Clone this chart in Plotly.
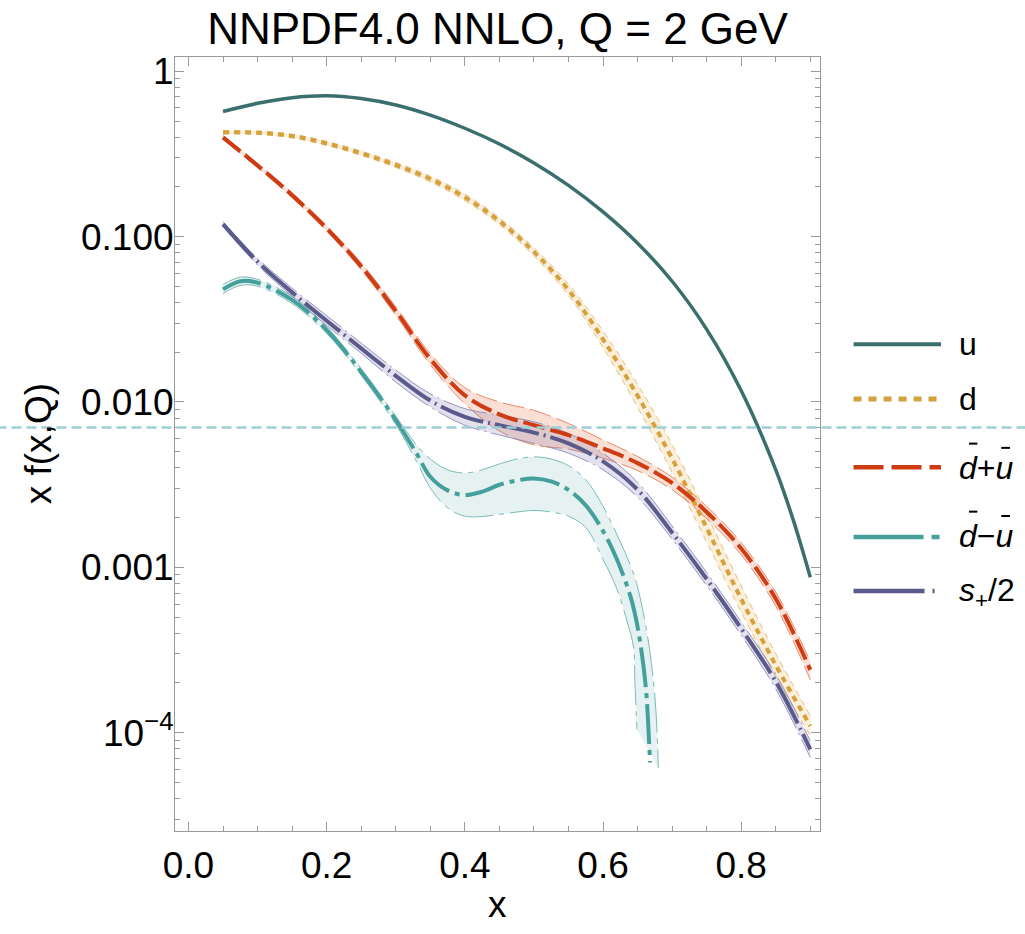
import plotly.graph_objects as go

# ---------------- data ----------------
x_grid = [0.05, 0.1, 0.15, 0.2, 0.25, 0.3, 0.35, 0.4, 0.45, 0.5, 0.55, 0.6,
          0.65, 0.7, 0.75, 0.8, 0.85, 0.9]

u_x = [0.05, 0.1, 0.15, 0.2, 0.25, 0.3, 0.35, 0.4, 0.45, 0.5, 0.55, 0.6,
       0.65, 0.7, 0.75, 0.8, 0.85, 0.875, 0.9]
u_mid = [0.571, 0.640, 0.692, 0.711, 0.684, 0.625, 0.543, 0.452, 0.363, 0.279,
         0.204, 0.141, 0.0912, 0.0537, 0.0275, 0.0117, 0.00389, 0.00195, 0.000871]

d_mid = [0.427, 0.425, 0.406, 0.366, 0.319, 0.271, 0.223, 0.173, 0.124, 0.0809,
         0.0476, 0.0239, 0.0109, 0.00455, 0.00173, 0.000643, 0.000256, 0.000110]
d_hi = [0.437, 0.435, 0.416, 0.377, 0.329, 0.281, 0.232, 0.181, 0.130, 0.0857,
        0.0516, 0.0268, 0.0128, 0.00553, 0.00210, 0.000773, 0.000301, 0.000127]
d_lo = [0.417, 0.415, 0.395, 0.356, 0.310, 0.262, 0.214, 0.165, 0.118, 0.0764,
        0.0440, 0.0213, 0.00929, 0.00374, 0.00142, 0.000535, 0.000218, 0.0000962]

dpu_mid = [0.398, 0.269, 0.178, 0.1122, 0.0661, 0.0355, 0.0182, 0.01096, 0.00841,
           0.00724, 0.00631, 0.00525, 0.00427, 0.00324, 0.00216, 0.00130,
           0.000646, 0.000240]
dpu_hi = [0.409, 0.277, 0.184, 0.116, 0.0692, 0.0376, 0.0196, 0.0122, 0.0100,
          0.00891, 0.00741, 0.00589, 0.00468, 0.00351, 0.00234, 0.00141,
          0.000708, 0.000269]
dpu_lo = [0.387, 0.262, 0.172, 0.108, 0.0631, 0.0335, 0.0168, 0.00977, 0.00668,
          0.00550, 0.00519, 0.00457, 0.00385, 0.00295, 0.00197, 0.00119,
          0.000582, 0.000209]

du_x = [0.05, 0.075, 0.1, 0.15, 0.2, 0.25, 0.3, 0.33, 0.35, 0.375, 0.4, 0.425,
        0.45, 0.475, 0.5, 0.525, 0.55, 0.575, 0.6, 0.62, 0.64, 0.65, 0.658,
        0.663, 0.666, 0.668]
du_mid = [0.0480, 0.0537, 0.0526, 0.0414, 0.0272, 0.0152, 0.00778, 0.00489,
          0.00353, 0.00292, 0.00274, 0.00287, 0.00316, 0.00335, 0.00345,
          0.00331, 0.00294, 0.00237, 0.00166, 0.00112, 0.000661, 0.000437,
          0.000263, 0.000166, 0.000100, 0.0000661]
du_hi_x = [0.05, 0.075, 0.1, 0.15, 0.2, 0.25, 0.3, 0.33, 0.35, 0.375, 0.4, 0.425,
           0.45, 0.475, 0.5, 0.525, 0.55, 0.575, 0.6, 0.62, 0.64, 0.65, 0.663,
           0.67, 0.675, 0.678, 0.68]
du_hi = [0.0513, 0.0569, 0.0552, 0.0435, 0.0285, 0.0159, 0.00822, 0.00550,
         0.00452, 0.00389, 0.00372, 0.00389, 0.00422, 0.00452, 0.00466, 0.00452,
         0.00412, 0.00339, 0.00234, 0.00158, 0.00102, 0.000759, 0.000417,
         0.000263, 0.000166, 0.000105, 0.0000610]
du_lo_x = [0.05, 0.075, 0.1, 0.15, 0.2, 0.25, 0.3, 0.33, 0.35, 0.375, 0.4, 0.425,
           0.45, 0.475, 0.5, 0.525, 0.55, 0.575, 0.6, 0.62, 0.635, 0.644, 0.646,
           0.649]
du_lo = [0.0452, 0.0507, 0.0501, 0.0394, 0.0260, 0.0145, 0.00733, 0.00437,
         0.00302, 0.00229, 0.00204, 0.00203, 0.00209, 0.00216, 0.00221, 0.00216,
         0.00204, 0.00174, 0.00112, 0.000741, 0.000468, 0.000331, 0.000209,
         0.000105]

s_mid = [0.119, 0.0705, 0.0460, 0.0310, 0.0211, 0.0144, 0.0102, 0.00813, 0.00724,
         0.00653, 0.00562, 0.00437, 0.00295, 0.00162, 0.000851, 0.000427,
         0.000204, 0.0000794]
s_hi = [0.123, 0.0738, 0.0488, 0.0333, 0.0227, 0.0156, 0.0112, 0.00912, 0.00832,
        0.00759, 0.00646, 0.00490, 0.00327, 0.00178, 0.000933, 0.000468,
        0.000226, 0.0000891]
s_lo = [0.115, 0.0673, 0.0435, 0.0290, 0.0197, 0.0132, 0.00933, 0.00724, 0.00631,
        0.00562, 0.00490, 0.00389, 0.00266, 0.00148, 0.000776, 0.000389,
        0.000184, 0.0000708]

ref_value = 0.007

legend_labels = ["u", "d", "<i>d</i>+<i>u</i>", "<i>d</i>\u2212<i>u</i>",
                 "<i>s</i><sub>+</sub>/2"]

y_tickvals = [1e-4, 1e-3, 1e-2, 1e-1, 1]
y_ticktext = ["10<sup>\u22124</sup>", "0.001", "0.010", "0.100", "1"]

# ---------------- styles ----------------
FONT = "Liberation Sans, Arial, Helvetica, sans-serif"
C_U = "#3b6f6d"
C_D = "#d6a03c"
C_DPU = "#cf3b12"
C_DU = "#45a09b"
C_S = "#5b5a8c"

DASH_D = "6px,5px"
DASH_DPU = "22px,6px"
DASH_DU = "40px,6px,5px,6px"
DASH_S = "45px,5px,2px,5px"

SPL = dict(shape="spline", smoothing=1.0)

fig = go.Figure()


def band(xh, hi, xl, lo, edge, fill, dash):
    fig.add_trace(go.Scatter(x=xh, y=hi, mode="lines",
                             line=dict(color=edge, width=1, dash=dash, **SPL),
                             hoverinfo="skip", showlegend=False))
    fig.add_trace(go.Scatter(x=xl, y=lo, mode="lines", fill="tonexty",
                             fillcolor=fill,
                             line=dict(color=edge, width=1, dash=dash, **SPL),
                             hoverinfo="skip", showlegend=False))


band(x_grid, d_hi, x_grid, d_lo, "rgba(215,170,90,0.7)", "rgba(240,205,140,0.32)", DASH_D)
band(x_grid, dpu_hi, x_grid, dpu_lo, "rgba(230,120,80,0.85)", "rgba(238,140,105,0.28)", DASH_DPU)
band(du_hi_x, du_hi, du_lo_x, du_lo, "rgba(110,180,176,0.9)", "rgba(125,190,185,0.20)", DASH_DU)
band(x_grid, s_hi, x_grid, s_lo, "rgba(130,128,175,0.8)", "rgba(125,120,175,0.22)", DASH_S)

fig.add_trace(go.Scatter(x=u_x, y=u_mid, mode="lines",
                         line=dict(color=C_U, width=3.5, **SPL), showlegend=False))
fig.add_trace(go.Scatter(x=x_grid, y=d_mid, mode="lines",
                         line=dict(color=C_D, width=4, dash=DASH_D, **SPL), showlegend=False))
fig.add_trace(go.Scatter(x=x_grid, y=dpu_mid, mode="lines",
                         line=dict(color=C_DPU, width=4, dash=DASH_DPU, **SPL), showlegend=False))
fig.add_trace(go.Scatter(x=du_x, y=du_mid, mode="lines",
                         line=dict(color=C_DU, width=4, dash=DASH_DU, **SPL), showlegend=False))
fig.add_trace(go.Scatter(x=x_grid, y=s_mid, mode="lines",
                         line=dict(color=C_S, width=4, dash=DASH_S, **SPL), showlegend=False))

# horizontal reference line across the whole figure
fig.add_shape(type="line", xref="paper", yref="y", x0=-0.3, x1=1.35,
              y0=ref_value, y1=ref_value,
              line=dict(color="#9ccfd6", width=2.5, dash="10px,5px"))

# custom legend (long sample lines as in the reference)
leg_y = [0.629, 0.558, 0.470, 0.380, 0.310]
leg_text_y = [0.629, 0.558, 0.469, 0.381, 0.308]
leg_styles = [(C_U, None, 4), (C_D, "8px,7px", 5), (C_DPU, "30px,8px", 4.5),
              (C_DU, "70px,8px,8px,20px", 4.5), (C_S, "71px,8px,2px,20px", 4.5)]
for yy, ty, (col, dsh, w), lab in zip(leg_y, leg_text_y, leg_styles, legend_labels):
    ln = dict(color=col, width=w)
    if dsh:
        ln["dash"] = dsh
    fig.add_shape(type="line", xref="paper", yref="paper", x0=1.052, x1=1.1876,
                  y0=yy, y1=yy, line=ln)
    fig.add_annotation(xref="paper", yref="paper", x=1.212, y=ty, text=lab,
                       showarrow=False, xanchor="left", yanchor="middle",
                       font=dict(family=FONT, size=32, color="black"))

# overbars of the antiquark labels
for (bx0, bx1, by) in [(1.2310, 1.2440, 0.5005), (1.2810, 1.2945, 0.4950),
                       (1.2310, 1.2440, 0.4126), (1.2810, 1.2945, 0.4070)]:
    fig.add_shape(type="line", xref="paper", yref="paper", x0=bx0, x1=bx1,
                  y0=by, y1=by, line=dict(color="black", width=2))

# axis titles
fig.add_annotation(xref="paper", yref="paper", x=0.5, y=-0.0956, text="x",
                   showarrow=False, xanchor="center", yanchor="middle",
                   font=dict(family=FONT, size=37, color="black"))
fig.add_annotation(xref="paper", yref="paper", x=-0.212, y=0.5, text="x f(x,Q)",
                   textangle=-90, showarrow=False, xanchor="center", yanchor="middle",
                   font=dict(family=FONT, size=37, color="black"))

minor_y = [k * 10.0 ** n for n in range(-5, 1) for k in range(2, 10)
           if 2.5e-5 < k * 10.0 ** n < 1.22]

fig.update_layout(
    width=1025, height=934,
    margin=dict(l=175, r=205, t=57, b=103),
    plot_bgcolor="white", paper_bgcolor="white",
    showlegend=False,
    font=dict(family=FONT, size=37, color="black"),
    title=dict(text="NNPDF4.0 NNLO, Q = 2 GeV", x=0.5, xref="paper", xanchor="center",
               y=1 - 29 / 934, yref="container", yanchor="middle",
               font=dict(family=FONT, size=44, color="black")),
)
fig.update_xaxes(range=[-0.0195, 0.914], tick0=0, dtick=0.2, tickformat=".1f",
                 ticks="inside", ticklen=9, tickcolor="#9a9a9a", tickwidth=1,
                 showline=True, linecolor="#9a9a9a", linewidth=1, mirror="ticks",
                 showgrid=False, zeroline=False, ticklabelstandoff=2,
                 tickfont=dict(family=FONT, size=37, color="black"),
                 minor=dict(dtick=0.05, tick0=0, ticks="inside", ticklen=5,
                            tickcolor="#9a9a9a", showgrid=False))
fig.update_yaxes(type="log", range=[-4.594, 0.086], tickmode="array",
                 tickvals=y_tickvals, ticktext=y_ticktext,
                 ticks="inside", ticklen=9, tickcolor="#9a9a9a", tickwidth=1,
                 showline=True, linecolor="#9a9a9a", linewidth=1, mirror="ticks",
                 showgrid=False, zeroline=False, ticklabelstandoff=-7,
                 tickfont=dict(family=FONT, size=37, color="black"),
                 minor=dict(tickmode="array", tickvals=minor_y, ticks="inside",
                            ticklen=5, tickcolor="#9a9a9a", showgrid=False))

fig.write_html("out.html")
